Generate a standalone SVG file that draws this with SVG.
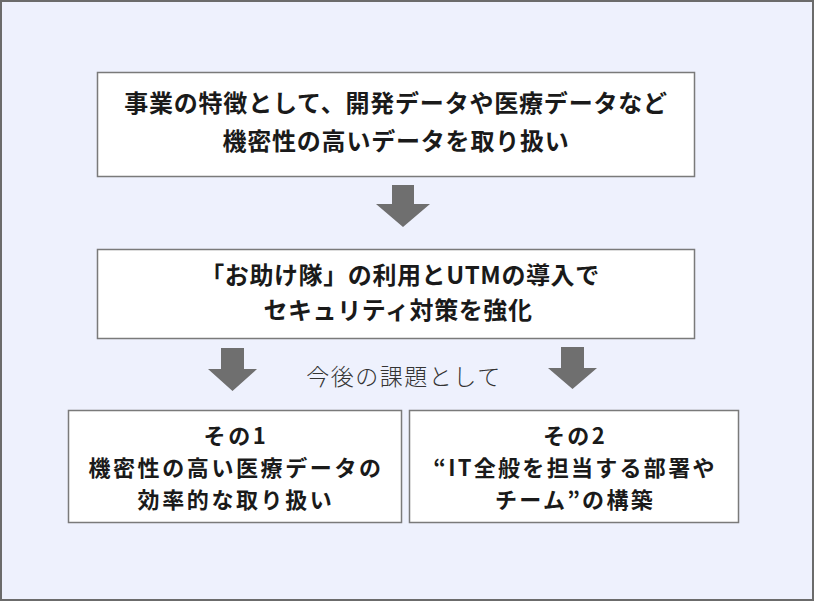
<svg xmlns="http://www.w3.org/2000/svg" width="814" height="601" viewBox="0 0 814 601">
<style>
.box{fill:#ffffff;stroke:#7a7a7a;stroke-width:1.5}
.t{font-family:"Noto Sans CJK JP","Noto Sans",sans-serif;font-weight:bold;font-size:24px;fill:#1a1a1a;text-anchor:middle}
.s{font-family:"Noto Sans CJK JP","Noto Sans",sans-serif;font-weight:bold;font-size:22px;fill:#1a1a1a;text-anchor:middle}
.sub{font-family:"Noto Sans CJK JP","Noto Sans",sans-serif;font-weight:300;font-size:23px;fill:#333333;text-anchor:middle}
.arr{fill:#6f6f6f}
</style>
<rect x="1" y="1" width="812" height="599" fill="#EEF1FD" stroke="#6b6b6b" stroke-width="2"/>
<g id="connectors">
<path class="arr" d="M392,185 H414 V204 H430 L403,227 L376,204 H392 Z"/>
<path class="arr" d="M221,348 H244 V369 H257 L232.5,391 L208,369 H221 Z"/>
<path class="arr" d="M561,347 H584 V368 H597 L572.5,389 L548,368 H561 Z"/>
<text class="sub" x="404" y="385" letter-spacing="1.5">今後の課題として</text>
</g>
<g id="node1">
<rect class="box" x="97.5" y="72.5" width="597" height="104"/>
<text class="t" letter-spacing="0.8"><tspan x="396" y="112">事業の特徴として、開発データや医療データなど</tspan><tspan x="396" y="150">機密性の高いデータを取り扱い</tspan></text>
</g>
<g id="node2">
<rect class="box" x="97.5" y="249.5" width="597" height="89"/>
<text class="t" letter-spacing="0.6"><tspan x="400" y="284">「お助け隊」の利用とUTMの導入で</tspan><tspan x="398" y="319">セキュリティ対策を強化</tspan></text>
</g>
<g id="node3">
<rect class="box" x="68.5" y="410.5" width="333" height="112"/>
<text class="s" letter-spacing="2.6"><tspan x="236" y="444">その1</tspan><tspan x="236" y="476">機密性の高い医療データの</tspan><tspan x="236" y="508">効率的な取り扱い</tspan></text>
</g>
<g id="node4">
<rect class="box" x="409.5" y="410.5" width="329" height="112"/>
<text class="s" letter-spacing="2.3"><tspan x="575" y="444">その2</tspan><tspan x="575" y="476">“IT全般を担当する部署や</tspan><tspan x="575" y="508">チーム”の構築</tspan></text>
</g>
</svg>
